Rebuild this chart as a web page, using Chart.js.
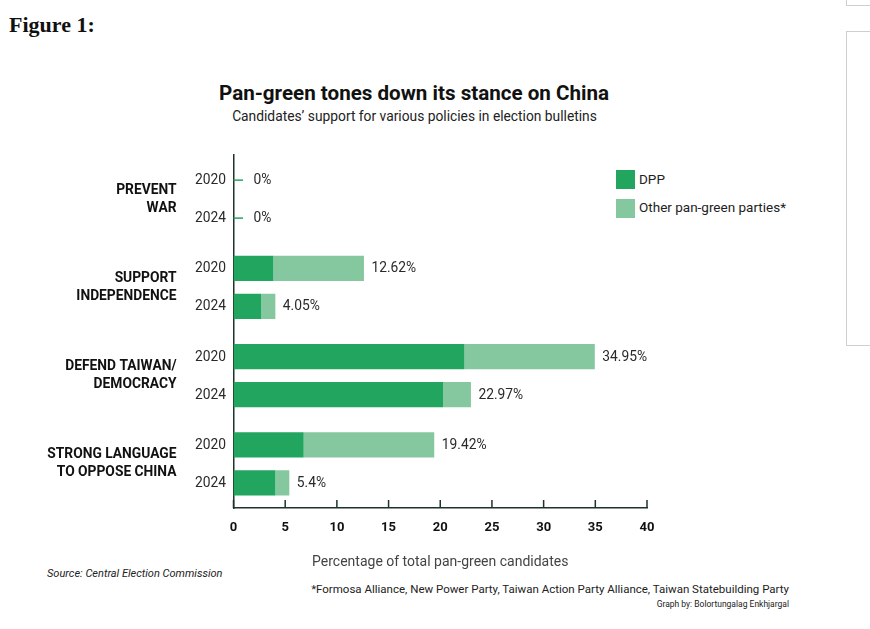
<!DOCTYPE html>
<html><head><meta charset="utf-8">
<script src="https://cdn.jsdelivr.net/npm/chart.js@4.4.0/dist/chart.umd.min.js"></script>
<style>
html,body{margin:0;padding:0;background:#fff;}
body{width:870px;height:629px;position:relative;overflow:hidden;font-family:Roboto,sans-serif;color:#111;}
#wrap{position:absolute;left:0;top:0;width:870px;height:629px;}
.t{position:absolute;white-space:nowrap;line-height:1;}
.box{position:absolute;border-color:#cfcfcf;border-style:solid;border-width:0;}
.lg{position:absolute;width:19px;height:19px;}
</style></head><body>
<div class="box" style="left:846px;top:-2px;width:30px;height:7px;border-left-width:1.5px;border-bottom-width:1.5px;"></div>
<div class="box" style="left:846px;top:31px;width:30px;height:313px;border-left-width:1.5px;border-top-width:1.5px;border-bottom-width:1.5px;"></div>
<div class="t" style="left:9px;top:14px;font-family:'Liberation Serif',serif;font-size:22px;font-weight:bold;color:#111;">Figure 1:</div>
<div class="t" style="left:0;width:828px;text-align:center;top:83px;font-size:20.6px;font-weight:bold;color:#111;">Pan-green tones down its stance on China</div>
<div class="t" style="left:0;width:829px;text-align:center;top:110px;font-size:13.8px;color:#222;">Candidates’ support for various policies in election bulletins</div>
<div class="lg" style="left:616px;top:170px;background:#22a55f;"></div>
<div class="lg" style="left:616px;top:199px;background:#85c89f;"></div>
<div class="t" style="left:639px;top:173px;font-size:13.5px;color:#222;">DPP</div>
<div class="t" style="left:639px;top:201px;font-size:13.5px;color:#222;">Other pan-green parties*</div>
<div class="t" style="left:47px;top:568px;font-size:11px;font-style:italic;color:#222;">Source: Central Election Commission</div>
<div class="t" style="right:81px;top:584px;font-size:11.5px;color:#222;">*Formosa Alliance, New Power Party, Taiwan Action Party Alliance, Taiwan Statebuilding Party</div>
<div class="t" style="right:81px;top:600px;font-size:8.5px;color:#222;">Graph by: Bolortungalag Enkhjargal</div>
<div id="wrap"><canvas id="c" width="870" height="629"></canvas></div>
<script>
const groups = [["PREVENT","WAR"],["SUPPORT","INDEPENDENCE"],["DEFEND TAIWAN/","DEMOCRACY"],["STRONG LANGUAGE","TO OPPOSE CHINA"]];
const years = ["2020","2024"];
const dpp2020 = [0, 3.86, 22.34, 6.79];
const other2020 = [0, 8.76, 12.61, 12.63];
const dpp2024 = [0, 2.67, 20.27, 4.05];
const other2024 = [0, 1.38, 2.70, 1.35];
const xMin = 0, xMax = 40, xStep = 5;
const seriesNames = ["DPP", "Other pan-green parties*"];

const DARK = '#22a55f', LIGHT = '#85c89f', AXIS = '#1f3326';

const overlay = {
  id: 'overlay',
  afterDatasetsDraw(chart) {
    const ctx = chart.ctx;
    const area = chart.chartArea;
    ctx.save();
    ctx.font = '13.8px Roboto';
    ctx.textBaseline = 'middle';
    [[0,1],[2,3]].forEach((pair, yi) => {
      const dA = chart.data.datasets[pair[0]].data;
      const dB = chart.data.datasets[pair[1]].data;
      const meta = chart.getDatasetMeta(pair[1]);
      meta.data.forEach((el, i) => {
        const total = dA[i] + dB[i];
        const y = el.y;
        let tx;
        if (total === 0) {
          ctx.strokeStyle = DARK; ctx.lineWidth = 1.5;
          ctx.beginPath(); ctx.moveTo(area.left, y); ctx.lineTo(area.left + 9.5, y); ctx.stroke();
          tx = area.left + 20;
        } else {
          tx = el.x + 7.5;
        }
        ctx.fillStyle = '#2a2a2a'; ctx.textAlign = 'left';
        ctx.fillText(parseFloat(total.toFixed(2)) + '%', tx, y + 0.5);
        ctx.textAlign = 'right';
        ctx.fillText(years[yi], area.left - 7.5, y + 0.5);
      });
    });
    ctx.restore();
  },
  afterDraw(chart) {
    const ctx = chart.ctx, xs = chart.scales.x, area = chart.chartArea;
    ctx.save();
    ctx.strokeStyle = AXIS; ctx.lineWidth = 1.5;
    xs.ticks.forEach(t => {
      const px = xs.getPixelForValue(t.value);
      ctx.beginPath(); ctx.moveTo(px, area.bottom); ctx.lineTo(px, area.bottom - 8); ctx.stroke();
    });
    ctx.restore();
  }
};

new Chart(document.getElementById('c'), {
  type: 'bar',
  data: {
    labels: groups,
    datasets: [
      {label: seriesNames[0], data: dpp2020, stack: years[0], backgroundColor: DARK},
      {label: seriesNames[1], data: other2020, stack: years[0], backgroundColor: LIGHT},
      {label: seriesNames[0], data: dpp2024, stack: years[1], backgroundColor: DARK},
      {label: seriesNames[1], data: other2024, stack: years[1], backgroundColor: LIGHT}
    ]
  },
  options: {
    indexAxis: 'y',
    responsive: false,
    animation: false,
    events: [],
    categoryPercentage: 0.861,
    barPercentage: 0.66,
    layout: {padding: {left: 0, right: 223, top: 155, bottom: 51}},
    plugins: {legend: {display: false}, tooltip: {enabled: false}},
    scales: {
      y: {
        type: 'category',
        stacked: true,
        grid: {display: false, drawTicks: false},
        border: {display: true, color: AXIS, width: 1.5},
        ticks: {font: {family: 'Roboto', size: 13.8, weight: 'bold', lineHeight: 1.3}, color: '#111', padding: 57},
        afterFit(s) { s.width = 233.5; }
      },
      x: {
        stacked: true,
        min: xMin, max: xMax,
        grid: {display: false, drawTicks: false},
        border: {display: true, color: AXIS, width: 1.5},
        ticks: {stepSize: xStep, font: {family: 'Roboto', size: 13, weight: 'bold'}, color: '#111', padding: 12},
        title: {display: true, text: 'Percentage of total pan-green candidates', font: {family: 'Roboto', size: 14}, color: '#444', padding: {top: 0, bottom: 7}},
        afterFit(s) { s.height = 70; }
      }
    }
  },
  plugins: [overlay]
});
</script>
</body></html>
